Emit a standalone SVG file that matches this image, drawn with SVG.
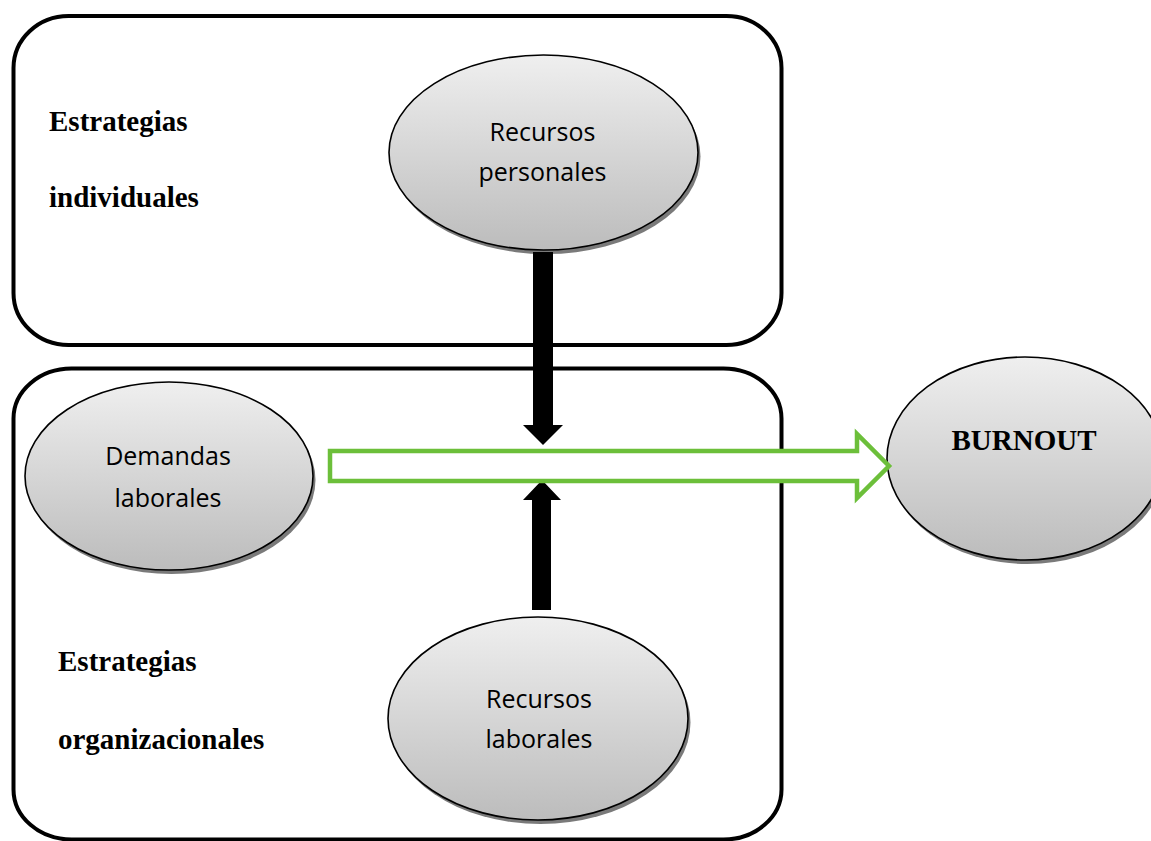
<svg xmlns="http://www.w3.org/2000/svg" width="1151" height="841" viewBox="0 0 1151 841">
  <defs>
    <linearGradient id="g" x1="0" y1="0" x2="0" y2="1">
      <stop offset="0" stop-color="#efefef"/>
      <stop offset="1" stop-color="#bcbcbc"/>
    </linearGradient>
    <style>
      .box{fill:none;stroke:#000;stroke-width:4}
      .shadow{fill:#7a7a7a}
      .ell{fill:url(#g);stroke:#000;stroke-width:1.6}
      .lbl{font-family:"Open Sans","Liberation Sans",sans-serif;font-size:25px;fill:#000;text-anchor:middle}
      .bold{font-family:"Liberation Serif","Times New Roman",serif;font-weight:bold;font-size:29px;fill:#000}
      .blk{fill:#000}
      .green{fill:#fff;stroke:#6cbf3a;stroke-width:4.5;stroke-linejoin:miter}
    </style>
  </defs>
  <rect width="1151" height="841" fill="#fff"/>

  <g id="box-individuales">
    <rect class="box" x="13.5" y="16" width="768" height="329" rx="55" ry="52"/>
    <text class="bold" x="49" y="131">Estrategias</text>
    <text class="bold" x="49" y="207">individuales</text>
  </g>

  <g id="box-organizacionales">
    <rect class="box" x="13.5" y="368.5" width="768" height="471" rx="58" ry="50"/>
    <text class="bold" x="58" y="671">Estrategias</text>
    <text class="bold" x="58" y="749">organizacionales</text>
  </g>

  <g id="recursos-personales">
    <ellipse class="shadow" cx="546" cy="156.5" rx="154.5" ry="97.5"/>
    <ellipse class="ell" cx="543.5" cy="152.5" rx="154.5" ry="97.5"/>
    <text class="lbl" x="542.5" y="141">Recursos</text>
    <text class="lbl" x="542.5" y="181">personales</text>
  </g>

  <g id="demandas-laborales">
    <ellipse class="shadow" cx="171.5" cy="480" rx="144" ry="94"/>
    <ellipse class="ell" cx="169" cy="476" rx="144" ry="94"/>
    <text class="lbl" x="168" y="465">Demandas</text>
    <text class="lbl" x="168" y="507">laborales</text>
  </g>

  <g id="recursos-laborales">
    <ellipse class="shadow" cx="540.5" cy="722.5" rx="150" ry="101.5"/>
    <ellipse class="ell" cx="538" cy="718.5" rx="150" ry="101.5"/>
    <text class="lbl" x="539" y="708">Recursos</text>
    <text class="lbl" x="539" y="748">laborales</text>
  </g>

  <g id="burnout">
    <ellipse class="shadow" cx="1027.5" cy="462.5" rx="138" ry="101.5"/>
    <ellipse class="ell" cx="1025" cy="458.5" rx="138" ry="101.5"/>
    <text class="bold" x="1024" y="450" text-anchor="middle">BURNOUT</text>
  </g>

  <g id="connectors">
    <path class="blk" d="M533,252 H553 V425 H563 L543,445 L523,425 H533 Z"/>
    <path class="blk" d="M532,610 H551 V500 H561 L542,480 L523,500 H532 Z"/>
    <path class="green" d="M330,451 H857 V434 L889,466 L857,498 V481 H330 Z"/>
  </g>
</svg>
